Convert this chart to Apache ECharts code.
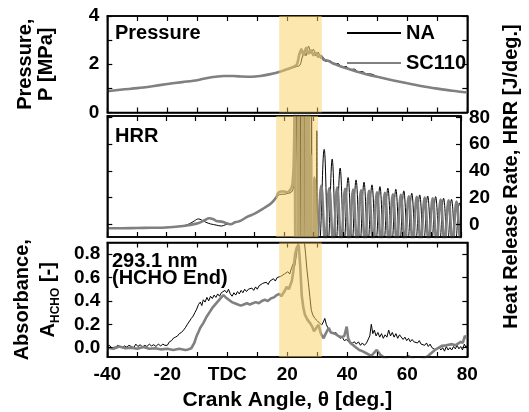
<!DOCTYPE html>
<html><head><meta charset="utf-8">
<script src="https://cdn.jsdelivr.net/npm/echarts@6/dist/echarts.min.js"></script>
<style>html,body{margin:0;padding:0;background:#fff}#c{width:529px;height:412px}</style>
</head><body><div id="c"></div>
<script>
// ---------- data ----------
const xTickLabels = {'-40':'-40','-20':'-20','0':'TDC','20':'20','40':'40','60':'60','80':'80'};
const pLabels = [0, 2, 4];
const hrrTicks = [0, 20, 40, 60, 80];
const absTicks = [0, 0.2, 0.4, 0.6, 0.8];
const band = [17.3, 31.5];
const seriesNames = ['NA', 'SC110'];

const pressureNA = [[-40,0.88],[-35,0.95],[-30,1.01],[-25,1.09],[-20,1.18],[-15,1.26],[-10,1.34],[-7,1.42],[-4,1.48],[-1,1.51],[2,1.51],[5,1.49],[8,1.48],[11,1.51],[14,1.58],[17,1.67],[20,1.78],[23,1.9],[24.2,1.96],[25.0,2.3],[25.6,2.55],[26.2,2.35],[27.1,2.75],[27.9,2.45],[28.7,2.62],[29.5,2.35],[30.3,2.5],[31.1,2.25],[31.9,2.3],[32.8,2.12],[34.2,2.15],[35.5,1.98],[36.9,2.03],[38.2,1.88],[39.6,1.91],[40.9,1.78],[42.3,1.8],[43.6,1.69],[45.0,1.7],[46.3,1.6],[47.7,1.6],[50,1.49],[55,1.34],[60,1.21],[65,1.09],[70,0.99],[75,0.9],[80,0.83]];
const pressureSC110 = [[-40,0.88],[-35,0.95],[-30,1.01],[-25,1.09],[-20,1.18],[-15,1.26],[-10,1.34],[-7,1.42],[-4,1.48],[-1,1.51],[2,1.51],[5,1.49],[8,1.48],[11,1.51],[14,1.58],[17,1.67],[20,1.8],[22.5,1.92],[23.3,2.02],[24.0,2.4],[24.7,2.62],[25.4,2.38],[26.3,2.68],[27.1,2.45],[27.9,2.58],[28.7,2.38],[29.5,2.47],[30.3,2.3],[31.2,2.35],[32.2,2.18],[33.5,2.15],[35,2.05],[37,1.95],[40,1.82],[43,1.7],[46,1.6],[50,1.48],[55,1.34],[60,1.21],[65,1.09],[70,0.99],[75,0.9],[80,0.83]];

const hrrNA = [[-40,-3],[-35,-3],[-30,-2.8],[-25,-2.6],[-20,-2.3],[-17,-1.8],[-14,-1],[-12,0.5],[-10.5,2.5],[-9.1,4],[-8,3.2],[-6.5,1.5],[-5,0.3],[-3,-0.6],[-1.3,-1.3],[0,-0.4],[1,0.3],[2,0],[3,1],[4.3,2],[5.5,3],[7.6,5.7],[10,8],[13.1,12],[15.5,15.5],[17.3,19.5],[18,21.5],[19,22.5],[20,22.5],[21,23],[22,23.5],[22.8,25],[23.5,32],[24.0,55],[24.3,100],[24.6,-30],[25.3,-30],[25.6,100],[25.9,-30],[26.5,-30],[26.8,100],[27.1,-30],[27.7,-30],[28.0,100],[28.3,-30],[29.0,-30],[29.3,100],[29.6,-30],[30.7,-30],[31.1,70],[31.5,-30],[32.2,-14],[33.6,56],[34.95,-14],[36.3,48.7],[37.65,-14],[39.0,42],[40.35,-14],[41.7,35],[43.05,-14],[44.4,33.2],[45.75,-14],[47.1,31.5],[48.45,-14],[49.8,29.5],[51.15,-14],[52.5,28.2],[53.85,-14],[55.2,27],[56.55,-14],[57.9,26.2],[59.25,-14],[60.6,25],[61.95,-14],[63.3,23.2],[64.65,-14],[66.0,22],[67.35,-14],[68.7,21.2],[70.05,-14],[71.4,20.7],[72.75,-14],[74.1,19.5],[75.45,-14],[76.8,18.7],[78.15,-14],[79.5,16],[80,12]];
const hrrSC110 = [[-40,-3],[-35,-3],[-30,-2.8],[-25,-2.6],[-20,-2.4],[-15,-1.5],[-12,-0.5],[-9,1],[-7,3],[-5.4,4.5],[-4,3.8],[-3,2.5],[-1.3,2],[0,1.2],[1,0.5],[2,0],[3,1.2],[4.3,2],[5.5,3],[7.6,5.7],[10,8],[13.1,12],[15.5,15.5],[17.3,20],[18,23.5],[19,24.5],[20,24.5],[21,24],[22,25.5],[22.8,30],[23.3,50],[23.6,100],[23.9,-30],[24.6,-30],[24.9,100],[25.2,-30],[25.9,-30],[26.2,100],[26.5,-30],[27.1,-30],[27.4,100],[27.7,-30],[28.1,-30],[28.4,90],[28.7,-30],[29.0,52],[29.3,-30],[30.0,-30],[30.3,35],[31.25,-14],[32.6,29],[33.95,-14],[35.3,27],[36.65,-14],[38.0,27.5],[39.35,-14],[40.7,26.5],[42.05,-14],[43.4,26],[44.75,-14],[46.1,25.5],[47.45,-14],[48.8,25],[50.15,-14],[51.5,24],[52.85,-14],[54.2,23.5],[55.55,-14],[56.9,22.5],[58.25,-14],[59.6,22],[60.95,-14],[62.3,21],[63.65,-14],[65.0,20.5],[66.35,-14],[67.7,20],[69.05,-14],[70.4,19.5],[71.75,-14],[73.1,18.5],[74.45,-14],[75.8,18],[77.15,-14],[78.5,17],[79.85,-12],[80,-10]];

const absNA = [[-40,0.01],[-39.3,0.02],[-38.6,0.0],[-38,0.015],[-37.2,0.005],[-36.5,0.02],[-35.8,0.01],[-35,0.0],[-34.3,0.015],[-33.5,0.005],[-32.8,0.02],[-32,0.01],[-31.2,0.0],[-30.5,0.03],[-29.8,0.01],[-29,0.025],[-28.3,0.005],[-27.5,0.02],[-26.8,0.01],[-26,0.03],[-25.3,0.015],[-24.5,0.025],[-23.8,0.01],[-23,0.03],[-22.2,0.015],[-21.5,0.03],[-20.8,0.02],[-20,0.02],[-19.3,0.05],[-18.6,0.06],[-18,0.08],[-17.3,0.09],[-16.6,0.1],[-16,0.12],[-15.3,0.13],[-14.6,0.15],[-14,0.17],[-13.3,0.2],[-12.7,0.21],[-12,0.25],[-11.4,0.27],[-10.8,0.3],[-10.2,0.33],[-9.6,0.37],[-9,0.39],[-8.5,0.36],[-8,0.41],[-7.4,0.39],[-6.8,0.43],[-6.2,0.4],[-5.6,0.44],[-5,0.42],[-4.4,0.45],[-3.8,0.43],[-3.2,0.46],[-2.6,0.44],[-2,0.47],[-1.4,0.46],[-0.8,0.49],[-0.2,0.47],[0.4,0.5],[1,0.46],[1.6,0.44],[2.2,0.47],[2.8,0.45],[3.4,0.48],[4,0.46],[4.6,0.49],[5.2,0.47],[5.8,0.5],[6.4,0.48],[7,0.5],[7.6,0.49],[8.2,0.51],[8.8,0.49],[9.4,0.52],[10,0.5],[10.6,0.53],[11.2,0.52],[11.8,0.55],[12.4,0.54],[13,0.56],[13.6,0.54],[14.2,0.57],[14.8,0.56],[15.4,0.59],[16,0.57],[16.6,0.6],[17.2,0.59],[17.8,0.61],[18.4,0.6],[19,0.63],[19.6,0.62],[20.2,0.65],[20.8,0.63],[21.4,0.68],[22,0.72],[22.5,0.7],[23,0.79],[23.5,0.88],[24,0.96],[25,1.0],[25.6,0.93],[26.1,0.8],[26.5,0.68],[27,0.56],[27.5,0.44],[28,0.32],[28.5,0.28],[29.2,0.25],[30,0.23],[30.7,0.21],[31.5,0.195],[32,0.22],[32.5,0.25],[33,0.2],[33.5,0.17],[34.2,0.14],[34.8,0.15],[35.5,0.12],[36.2,0.13],[37,0.1],[37.6,0.08],[38.3,0.09],[39,0.06],[39.7,0.07],[40.4,0.05],[41,0.06],[41.7,0.04],[42.4,0.05],[43,0.03],[43.7,0.05],[44.4,0.02],[45,0.04],[45.7,0.02],[46.4,0.04],[47,0.03],[47.5,0.1],[48,0.2],[48.5,0.12],[49,0.15],[49.6,0.1],[50.2,0.13],[50.8,0.09],[51.4,0.12],[52,0.08],[52.6,0.11],[53.2,0.09],[53.8,0.15],[54.4,0.1],[55,0.13],[55.6,0.09],[56.2,0.12],[56.8,0.08],[57.4,0.11],[58,0.1],[58.6,0.07],[59.2,0.09],[59.8,0.06],[60.4,0.08],[61,0.05],[61.6,0.07],[62.2,0.05],[62.8,0.06],[63.4,0.04],[64,0.06],[64.6,0.03],[65.2,0.04],[65.8,0.02],[66.4,0.04],[67,0.01],[67.6,0.03],[68.2,0.0],[68.8,0.01],[69.4,-0.02],[70,-0.03],[70.6,0.0],[71.2,-0.02],[71.8,0.0],[72.4,-0.03],[73,0.01],[73.6,-0.02],[74.2,0.0],[74.8,-0.02],[75.4,0.01],[76,-0.01],[76.6,0.02],[77.2,-0.01],[77.8,0.01],[78.4,-0.02],[79,0.03],[79.6,0.0],[80,0.02]];
const absSC110 = [[-40,0.0],[-38,-0.01],[-36,0.01],[-34,-0.005],[-32,0.0],[-30,-0.01],[-28,0.005],[-26,-0.01],[-24,-0.005],[-22,-0.015],[-20,-0.01],[-18,-0.02],[-16,-0.01],[-14,-0.02],[-13,-0.015],[-12,-0.005],[-11,0.04],[-10.3,0.095],[-9.5,0.14],[-9,0.17],[-8,0.21],[-7,0.26],[-6,0.3],[-5,0.34],[-4,0.37],[-3,0.4],[-2,0.43],[-1.3,0.45],[-0.5,0.43],[0.5,0.41],[1.5,0.39],[2.5,0.38],[3.5,0.37],[4.5,0.36],[5.5,0.37],[6.5,0.38],[7.5,0.37],[8.5,0.38],[9.5,0.39],[10.5,0.38],[11.5,0.4],[12.5,0.41],[13.5,0.4],[14.5,0.42],[15.5,0.43],[16.5,0.45],[17.3,0.46],[18,0.44],[19,0.48],[19.8,0.52],[20.5,0.5],[21.5,0.57],[22,0.65],[22.6,0.8],[23.2,0.86],[23.8,0.88],[24.3,0.7],[24.8,0.45],[25.3,0.35],[25.9,0.28],[26.7,0.24],[27.6,0.21],[28.3,0.18],[28.9,0.14],[29.5,0.15],[30.4,0.195],[31.2,0.12],[32.1,0.08],[32.8,0.12],[33.8,0.17],[34.5,0.13],[35.9,0.12],[37,0.1],[38,0.09],[39,0.1],[39.8,0.18],[40.3,0.08],[41,0.04],[42,0.02],[43,0.0],[44,-0.02],[45,-0.03],[46.5,-0.05],[48,-0.07],[49.8,-0.02],[51,-0.06],[53,-0.1],[55,-0.12],[57,-0.11],[59,-0.1],[60.2,-0.07],[61.5,-0.09],[63,-0.12],[65,-0.1],[67,-0.07],[69.2,-0.02],[70.5,0.0],[71.5,0.015],[73,0.02],[74.9,0.03],[76,0.02],[77.8,0.05],[78.5,0.04],[79.2,0.1],[80,0.08]];

// ---------- chart ----------
const FF = '"Liberation Sans", Arial, Helvetica, sans-serif';
const L = 107.3, R = 529 - 467.3;
const gray = '#808080';
const bandColor = 'rgba(250,208,95,0.5)';
const axLine = () => ({show: true, onZero: false, lineStyle: {color: '#000', width: 1.5}});
const tick = (vals) => Object.assign({show: true, inside: true, length: 5, lineStyle: {color: '#000', width: 1.2}}, vals ? {customValues: vals.slice()} : {});
const lab = (extra) => Object.assign({color: '#000', fontSize: 19, fontWeight: 'bold', fontFamily: FF}, extra);
const nameStyle = (extra) => Object.assign({color: '#000', fontSize: 20, fontWeight: 'bold', fontFamily: FF}, extra);
const bandArea = () => ({silent: true, z: 10, itemStyle: {color: bandColor, borderWidth: 0}, label: {show: false},
  data: [[{xAxis: band[0]}, {xAxis: band[1]}]]});
const mk = (name, data, xi, yi, smooth, withBand) => {
  const s = {
    type: 'line', name, data, xAxisIndex: xi, yAxisIndex: yi, showSymbol: false, symbol: 'none',
    smooth: smooth, clip: true, animation: false,
    lineStyle: name === 'NA' ? {color: '#000', width: 1} : {color: gray, width: 2.6},
    itemStyle: {color: name === 'NA' ? '#000' : gray},
    z: name === 'NA' ? 2 : 3
  };
  if (withBand) s.markArea = bandArea();
  return s;
};
const gridBox = (top, height) => ({left: L, right: R, top, height, show: true, borderColor: '#000', borderWidth: 1.5, backgroundColor: 'transparent'});

const xAxes = [];
for (let g = 0; g < 3; g++) {
  const bottom = {type: 'value', gridIndex: g, position: 'bottom', min: -40, max: 80, interval: 10, z: 5,
    axisLine: axLine(), axisTick: tick(), splitLine: {show: false},
    axisLabel: g === 2 ? lab({margin: 8, formatter: v => xTickLabels[String(v)] || ''}) : {show: false}};
  if (g === 2) Object.assign(bottom, {name: 'Crank Angle, θ [deg.]', nameLocation: 'middle', nameGap: 33, nameTextStyle: nameStyle({fontSize: 21})});
  xAxes.push(bottom);
  xAxes.push({type: 'value', gridIndex: g, position: 'top', min: -40, max: 80, interval: 10, z: 5,
    axisLine: axLine(), axisTick: tick(), splitLine: {show: false}, axisLabel: {show: false}});
}
const yAxes = [
  {type: 'value', gridIndex: 0, position: 'left', min: 0, max: 4, interval: 1, z: 5, axisLine: axLine(), axisTick: tick(), splitLine: {show: false},
    axisLabel: lab({margin: 8, formatter: v => pLabels.includes(v) ? String(v) : ''}),
    name: 'Pressure,\nP [MPa]', nameLocation: 'middle', nameRotate: 90, nameGap: 50, nameTextStyle: nameStyle({lineHeight: 21})},
  {type: 'value', gridIndex: 0, position: 'right', min: 0, max: 4, interval: 1, z: 5, axisLine: axLine(), axisTick: tick(), splitLine: {show: false}, axisLabel: {show: false}},
  {type: 'value', gridIndex: 1, position: 'left', min: -9.5, max: 81, z: 5, axisLine: axLine(), axisTick: tick(hrrTicks), splitLine: {show: false}, axisLabel: {show: false}},
  {type: 'value', gridIndex: 1, position: 'right', min: -9.5, max: 81, z: 5, axisLine: axLine(), axisTick: tick(hrrTicks), splitLine: {show: false},
    axisLabel: lab({margin: 8, customValues: hrrTicks.slice()}),
    name: 'Heat Release Rate, HRR [J/deg.]', nameLocation: 'middle', nameRotate: 90, nameGap: 38, nameTextStyle: nameStyle()},
  {type: 'value', gridIndex: 2, position: 'left', min: -0.08, max: 0.9, z: 5, axisLine: axLine(), axisTick: tick(absTicks), splitLine: {show: false},
    axisLabel: lab({margin: 7, customValues: absTicks.slice(), formatter: v => v.toFixed(1)}),
    name: '{a|Absorbance,}\n{a|A}{s|HCHO}{a| [-]}', nameLocation: 'middle', nameRotate: 90, nameGap: 46,
    nameTextStyle: nameStyle({rich: {
      a: {fontSize: 20, fontWeight: 'bold', fontFamily: FF, color: '#000', lineHeight: 26},
      s: {fontSize: 12, fontWeight: 'bold', fontFamily: FF, color: '#000', lineHeight: 12, verticalAlign: 'bottom'}
    }})},
  {type: 'value', gridIndex: 2, position: 'right', min: -0.08, max: 0.9, z: 5, axisLine: axLine(), axisTick: tick(absTicks), splitLine: {show: false}, axisLabel: {show: false}}
];
const panelText = (text, left, top) => ({text, left, top, padding: 0, textStyle: {color: '#000', fontSize: 20, fontWeight: 'bold', fontFamily: FF}});

const option = {
  animation: false,
  title: [
    panelText('Pressure', 115, 23),
    panelText('HRR', 115, 126),
    panelText('293.1 nm', 112, 251),
    panelText('(HCHO End)', 112, 268)
  ],
  grid: [gridBox(16, 96.5), gridBox(116, 121), gridBox(242.5, 114.5)],
  xAxis: xAxes,
  yAxis: yAxes,
  legend: {
    data: seriesNames.slice(), orient: 'vertical', left: 341, top: 18, itemWidth: 54, itemHeight: 16, itemGap: 10,
    itemStyle: {opacity: 0, borderWidth: 0},
    textStyle: {color: '#000', fontSize: 20, fontWeight: 'bold', fontFamily: FF},
    selectedMode: false
  },
  series: [
    mk('NA', pressureNA, 0, 0, 0.3, false),
    mk('SC110', pressureSC110, 0, 0, 0.3, true),
    mk('NA', hrrNA, 2, 3, 0.4, false),
    mk('SC110', hrrSC110, 2, 3, 0.4, true),
    mk('NA', absNA, 4, 4, false, false),
    mk('SC110', absSC110, 4, 4, false, true)
  ]
};
const chart = echarts.init(document.getElementById('c'));
chart.setOption(option);
</script></body></html>
